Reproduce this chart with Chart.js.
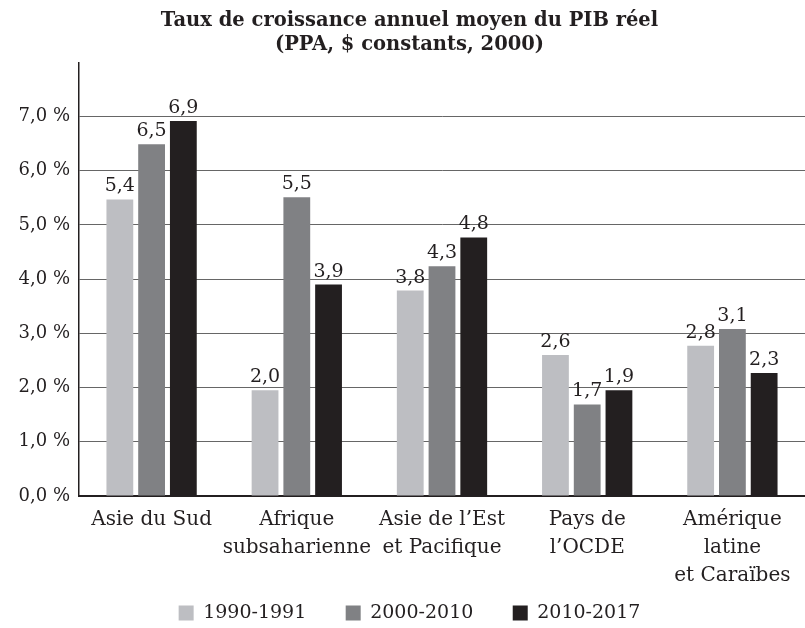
<!DOCTYPE html>
<html>
<head>
<meta charset="utf-8">
<script src="https://cdn.jsdelivr.net/npm/chart.js@4/dist/chart.umd.min.js"></script>
<style>
  html, body { margin: 0; padding: 0; background: #ffffff; }
  #wrap { width: 805px; height: 628px; }
</style>
</head>
<body>
<div id="wrap"><canvas id="c" width="805" height="628"></canvas></div>
<script>
// ---- data ----
const categories = [
  ['Asie du Sud'],
  ['Afrique', 'subsaharienne'],
  ['Asie de l’Est', 'et Pacifique'],
  ['Pays de', 'l’OCDE'],
  ['Amérique', 'latine', 'et Caraïbes']
];
const seriesNames = ['1990-1991', '2000-2010', '2010-2017'];
const values1990 = [5.47, 1.95, 3.79, 2.60, 2.77];
const values2000 = [6.49, 5.51, 4.24, 1.69, 3.08];
const values2010 = [6.92, 3.90, 4.77, 1.95, 2.27];
const labels1990 = ['5,4', '2,0', '3,8', '2,6', '2,8'];
const labels2000 = ['6,5', '5,5', '4,3', '1,7', '3,1'];
const labels2010 = ['6,9', '3,9', '4,8', '1,9', '2,3'];
const yTicks = [0, 1, 2, 3, 4, 5, 6, 7];
const titleLines = ['Taux de croissance annuel moyen du PIB réel', '(PPA, $ constants, 2000)'];

const colors = ['#bdbec2', '#808184', '#231f20'];
const serif = "'DejaVu Serif', 'Liberation Serif', serif";

const valueLabels = [labels1990, labels2000, labels2010];
const labelPlugin = {
  id: 'valueLabels',
  afterDatasetsDraw(chart) {
    const ctx = chart.ctx;
    ctx.save();
    ctx.font = '19px ' + serif;
    ctx.fillStyle = '#231f20';
    ctx.textAlign = 'center';
    ctx.textBaseline = 'alphabetic';
    chart.data.datasets.forEach((ds, i) => {
      const meta = chart.getDatasetMeta(i);
      meta.data.forEach((el, j) => {
        ctx.fillText(valueLabels[i][j], el.x, el.y - 8);
      });
    });
    ctx.restore();
  }
};

new Chart(document.getElementById('c'), {
  type: 'bar',
  data: {
    labels: categories,
    datasets: [
      { label: seriesNames[0], data: values1990, backgroundColor: colors[0] },
      { label: seriesNames[1], data: values2000, backgroundColor: colors[1] },
      { label: seriesNames[2], data: values2010, backgroundColor: colors[2] }
    ]
  },
  options: {
    responsive: false,
    animation: false,
    devicePixelRatio: 1,
    layout: { padding: { left: 8, right: -6, top: 4, bottom: -4.5 } },
    datasets: { bar: { categoryPercentage: 0.656, barPercentage: 0.844 } },
    plugins: {
      title: {
        display: true,
        text: titleLines,
        color: '#231f20',
        font: { family: serif, size: 19.5, weight: 'bold', lineHeight: 1.24 },
        padding: { top: 5, bottom: 5 }
      },
      legend: {
        position: 'bottom',
        labels: {
          color: '#231f20',
          font: { family: serif, size: 19 },
          boxWidth: 15,
          boxHeight: 15,
          padding: 17.5,
          useBorderRadius: false,
          generateLabels(chart) {
            const items = Chart.defaults.plugins.legend.labels.generateLabels(chart);
            items.forEach((it, i) => {
              it.lineWidth = 0;
              if (i < items.length - 1) it.text = it.text + '   \u2009';
            });
            return items;
          }
        }
      },
      tooltip: { enabled: false }
    },
    scales: {
      x: {
        afterFit(scale) { scale.height = 90; },
        grid: { display: false, drawTicks: false },
        border: { display: true, color: '#231f20', width: 2 },
        ticks: {
          color: '#231f20',
          font: { family: serif, size: 20, lineHeight: 1.4 },
          padding: 10,
          maxRotation: 0,
          autoSkip: false
        }
      },
      y: {
        min: 0,
        max: 8,
        afterFit(scale) { scale.width = 71; },
        afterBuildTicks(scale) {
          scale.ticks = yTicks.concat([8]).map(v => ({ value: v }));
        },
        grid: {
          color: ctx => (ctx.tick && ctx.tick.value === 8) ? 'rgba(0,0,0,0)' : '#666666',
          lineWidth: 1,
          drawTicks: false
        },
        border: { display: true, color: '#231f20', width: 1.5 },
        ticks: {
          color: '#231f20',
          font: { family: serif, size: 18 },
          padding: 9,
          callback: v => (v === 8 ? '' : v.toFixed(1).replace('.', ',') + ' %')
        }
      }
    }
  },
  plugins: [labelPlugin]
});
</script>
</body>
</html>
